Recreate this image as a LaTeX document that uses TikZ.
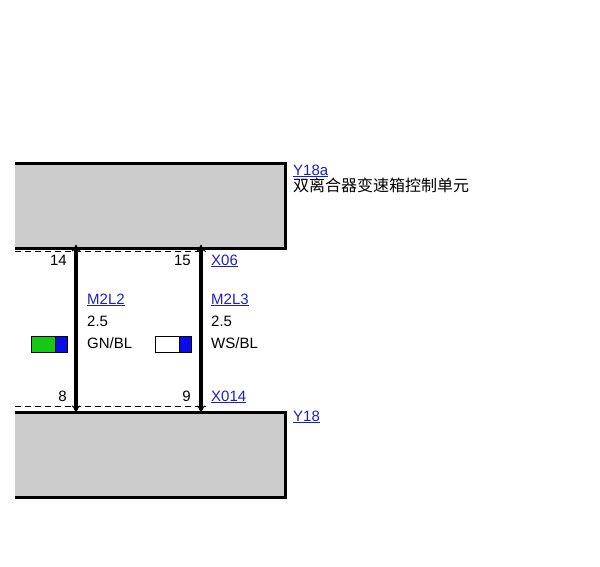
\documentclass[tikz,border=0pt]{standalone}
\usepackage{fontspec}
\setmainfont{Liberation Sans}
\newfontfamily\cjk{Noto Sans CJK SC}
\definecolor{lnk}{RGB}{30,30,200}
\definecolor{boxg}{RGB}{204,204,204}
\definecolor{gn}{RGB}{20,200,20}
\definecolor{bl}{RGB}{10,10,235}
\begin{document}
\begin{tikzpicture}[x=1pt,y=-1pt,
  unit/.style={draw=black,line width=2.6pt,fill=boxg},
  lbl/.style={font=\fontsize{15}{17}\selectfont,inner sep=0pt,anchor=base west},
  pin/.style={font=\fontsize{15}{17}\selectfont,inner sep=0pt,anchor=base east},
  link/.style={lbl,text=lnk},
  wire/.style={line width=3.5pt},
  conn/.style={line width=0.8pt,dash pattern=on 6pt off 4pt}]
\useasboundingbox (0,0) rectangle (600,566);
\begin{scope}
\clip (15,0) rectangle (600,566);
\node[unit,minimum width=279,minimum height=85,anchor=north west,inner sep=0pt] (u1) at (5,162) {};
\node[unit,minimum width=279,minimum height=85,anchor=north west,inner sep=0pt] (u2) at (5,411) {};
\end{scope}
\coordinate (t1) at (76,251); \coordinate (b1) at (76,406);
\coordinate (t2) at (201,251); \coordinate (b2) at (201,406);
\draw[conn] (15,251) -- (206,251);
\draw[conn] (15,406) -- (206,406);
\draw[wire] ([yshift=4]t1) -- ([yshift=-4]b1);
\draw[wire] ([yshift=4]t2) -- ([yshift=-4]b2);
\foreach \p in {t1,t2}{\draw[line width=1pt] ([xshift=-4]\p) to[out=0,in=90] ([yshift=5]\p) to[out=90,in=180] ([xshift=4]\p);}
\foreach \p in {b1,b2}{\draw[line width=1pt] ([xshift=-4]\p) to[out=0,in=-90] ([yshift=-5]\p) to[out=-90,in=180] ([xshift=4]\p);}
\node[pin] (p14) at (67,265) {14};
\node[pin] (p15) at (191,265) {15};
\node[pin] (p8) at (67,401) {8};
\node[pin] (p9) at (191,401) {9};
\node[link] (x06) at (211,265) {\underline{X06}};
\node[link] (x014) at (211,401) {\underline{X014}};
\node[link] (w1) at (87,304) {\underline{M2L2}};
\node[lbl] (s1) at (87,326) {2.5};
\node[lbl] (c1) at (87,348) {GN/BL};
\node[link] (w2) at (211,304) {\underline{M2L3}};
\node[lbl] (s2) at (211,326) {2.5};
\node[lbl] (c2) at (211,348) {WS/BL};
\draw[fill=gn,line width=0.6pt] (31,336) rectangle (55,352);
\draw[fill=bl,line width=0.6pt] (55,336) rectangle (67,352);
\draw[fill=white,line width=0.6pt] (155,336) rectangle (179,352);
\draw[fill=bl,line width=0.6pt] (179,336) rectangle (191,352);
\node[link] (y18a) at (293,175) {\underline{Y18a}};
\node[lbl] (nm) at (293,191) {\fontsize{16}{18}\selectfont\cjk 双离合器变速箱控制单元};
\node[link] (y18) at (293,421) {\underline{Y18}};
\end{tikzpicture}
\end{document}
